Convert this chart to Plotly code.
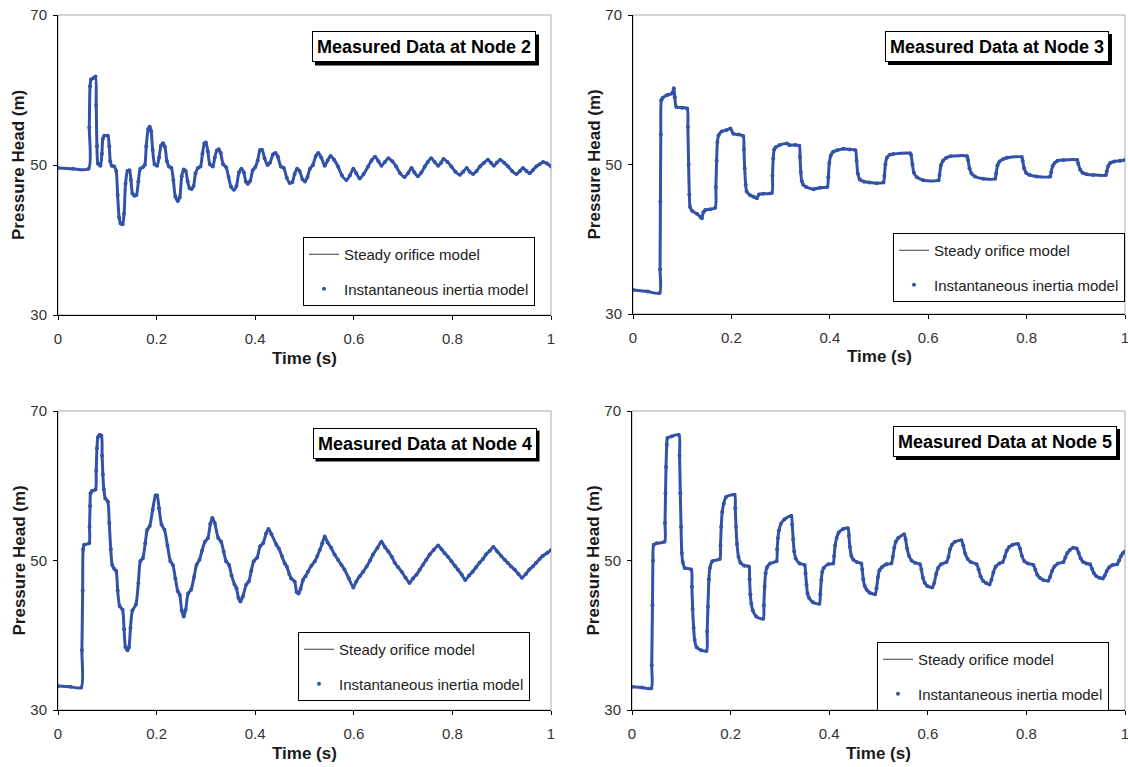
import plotly.graph_objects as go

# ---- Node 2: time (s) and pressure head (m) ----
t_node2 = [0, 0.03, 0.062, 0.0635, 0.065, 0.067, 0.072, 0.076, 0.0775, 0.079, 0.081, 0.086, 0.089, 0.091,
           0.094, 0.101, 0.104, 0.106, 0.109, 0.114, 0.118, 0.121, 0.124, 0.127, 0.131, 0.134, 0.137, 0.141,
           0.145, 0.148, 0.151, 0.155, 0.159, 0.163, 0.167, 0.172, 0.176, 0.179, 0.183, 0.186, 0.189, 0.192,
           0.196, 0.201, 0.205, 0.209, 0.213, 0.217, 0.221, 0.225, 0.23, 0.234, 0.238, 0.243, 0.247, 0.251,
           0.255, 0.259, 0.263, 0.267, 0.271, 0.275, 0.279, 0.284, 0.289, 0.293, 0.297, 0.300, 0.304, 0.308,
           0.314, 0.318, 0.322, 0.326, 0.330, 0.335, 0.341, 0.346, 0.351, 0.357, 0.362, 0.367, 0.372, 0.377,
           0.381, 0.385, 0.390, 0.395, 0.400, 0.405, 0.41, 0.414, 0.419, 0.425, 0.430, 0.436, 0.441, 0.446,
           0.452, 0.458, 0.464, 0.470, 0.475, 0.480, 0.485, 0.49, 0.496, 0.501, 0.506, 0.511, 0.517, 0.523,
           0.528, 0.534, 0.541, 0.547, 0.553, 0.56, 0.568, 0.576, 0.585, 0.592, 0.599, 0.605, 0.612, 0.62,
           0.629, 0.636, 0.643, 0.650, 0.656, 0.663, 0.670, 0.678, 0.686, 0.694, 0.703, 0.71, 0.717, 0.723,
           0.730, 0.737, 0.744, 0.75, 0.757, 0.764, 0.771, 0.777, 0.782, 0.79, 0.798, 0.806, 0.815, 0.822,
           0.829, 0.835, 0.842, 0.849, 0.856, 0.864, 0.872, 0.878, 0.884, 0.89, 0.897, 0.905, 0.913, 0.921,
           0.930, 0.937, 0.943, 0.95, 0.957, 0.963, 0.970, 0.977, 0.984, 0.992, 1.0]
h_node2 = [49.6, 49.5, 49.5, 55.0, 60.5, 61.4, 61.6, 61.8, 58.0, 52.5, 50.2, 49.9, 51.5, 53.5,
           53.9, 53.9, 52.5, 50.5, 49.9, 49.8, 49.2, 46.0, 43.0, 42.2, 42.1, 43.5, 47.5, 49.2,
           49.3, 48.0, 46.2, 45.9, 46.0, 47.8, 49.5, 49.7, 50.0, 52.5, 54.8, 55.1, 54.5, 52.0,
           50.1, 49.9, 51.0, 52.6, 52.9, 52.4, 50.5, 49.8, 49.6, 48.0, 45.8, 45.2, 45.7, 48.5,
           49.4, 49.2, 47.8, 46.9, 46.8, 47.2, 48.9, 49.6, 49.8, 51.5, 52.9, 53.0, 51.8, 50.1,
           49.8, 51.0, 51.9, 52.1, 51.6, 50.1, 49.7, 48.4, 47.1, 46.7, 47.2, 49.0, 49.5, 49.0,
           47.8, 47.5, 47.9, 49.3, 49.7, 50.6, 52.0, 52.0, 50.9, 50.0, 50.3, 51.4, 51.6, 51.1,
           49.8, 49.6, 48.3, 47.6, 47.7, 48.8, 49.5, 49.2, 48.1, 47.8, 48.4, 49.5, 50.0, 51.2,
           51.6, 51.0, 49.9, 50.6, 51.2, 50.7, 49.8, 48.6, 48.0, 48.6, 49.5, 48.9, 48.2, 48.8,
           49.8, 50.6, 51.1, 50.5, 49.9, 50.4, 50.9, 50.5, 49.8, 48.9, 48.4, 48.9, 49.6, 49.0,
           48.5, 49.0, 49.8, 50.4, 50.9, 50.4, 49.9, 50.3, 50.8, 50.4, 49.8, 49.1, 48.7, 49.1,
           49.6, 49.1, 48.8, 49.2, 49.8, 50.3, 50.7, 50.3, 49.9, 50.3, 50.7, 50.3, 49.8, 49.2,
           48.8, 49.2, 49.6, 49.2, 48.9, 49.3, 49.8, 50.1, 50.4, 50.2, 49.8]

# ---- Node 3 ----
t_node3 = [0, 0.03, 0.054, 0.0550, 0.0557, 0.0565, 0.0575, 0.06, 0.07, 0.079, 0.083, 0.085, 0.088, 0.10,
           0.110, 0.1115, 0.113, 0.1145, 0.116, 0.12, 0.13, 0.137, 0.140, 0.143, 0.147, 0.157, 0.167,
           0.1685, 0.170, 0.1715, 0.174, 0.180, 0.190, 0.198, 0.204, 0.215, 0.224, 0.2255, 0.227, 0.229,
           0.231, 0.238, 0.245, 0.252, 0.256, 0.265, 0.282, 0.2835, 0.285, 0.287, 0.29, 0.298, 0.313,
           0.318, 0.33, 0.338, 0.3395, 0.341, 0.343, 0.346, 0.352, 0.367, 0.38, 0.395, 0.397, 0.399,
           0.402, 0.407, 0.415, 0.428, 0.44, 0.452, 0.4545, 0.457, 0.461, 0.47, 0.48, 0.495, 0.509,
           0.511, 0.513, 0.516, 0.522, 0.529, 0.563, 0.565, 0.568, 0.571, 0.577, 0.59, 0.621, 0.623,
           0.626, 0.630, 0.637, 0.645, 0.679, 0.681, 0.684, 0.688, 0.695, 0.712, 0.736, 0.738, 0.741,
           0.745, 0.752, 0.76, 0.79, 0.792, 0.795, 0.799, 0.806, 0.82, 0.848, 0.850, 0.853, 0.857,
           0.863, 0.875, 0.903, 0.905, 0.909, 0.914, 0.922, 0.935, 0.961, 0.963, 0.966, 0.970, 0.978,
           0.99, 1.0]
h_node3 = [33.2, 33.0, 32.8, 36.0, 45.0, 54.0, 58.6, 58.9, 59.3, 59.5, 60.2, 59.0, 57.7, 57.6,
           57.5, 55.0, 50.0, 46.0, 44.3, 43.8, 43.4, 43.0, 42.8, 43.6, 43.9, 44.0, 44.2,
           47.0, 50.5, 53.0, 53.9, 54.4, 54.6, 54.8, 54.1, 54.0, 53.8, 52.0, 49.5, 47.3,
           46.4, 45.9, 45.7, 45.5, 46.0, 46.1, 46.2, 48.5, 50.8, 52.0, 52.3, 52.6, 52.8,
           52.6, 52.6, 52.5, 51.0, 49.0, 47.8, 47.3, 47.0, 46.7, 46.9, 47.0, 48.3, 50.2,
           51.2, 51.7, 51.9, 52.1, 52.0, 51.9, 50.5, 48.8, 48.0, 47.7, 47.6, 47.5, 47.6,
           48.5, 50.0, 50.9, 51.3, 51.4, 51.5, 51.3, 50.0, 48.9, 48.3, 47.9, 47.9, 48.6,
           49.9, 50.5, 50.9, 51.1, 51.1, 50.6, 49.5, 48.8, 48.4, 48.1, 48.1, 48.8, 49.9,
           50.4, 50.7, 50.9, 51.0, 50.5, 49.5, 48.9, 48.6, 48.4, 48.4, 49.0, 49.8, 50.2,
           50.5, 50.6, 50.6, 50.1, 49.3, 48.9, 48.7, 48.6, 48.6, 49.1, 49.8, 50.2, 50.4,
           50.5, 50.6]

# ---- Node 4 ----
t_node4 = [0, 0.025, 0.047, 0.0485, 0.050, 0.051, 0.053, 0.063, 0.064, 0.065, 0.066, 0.069, 0.076,
           0.0775, 0.079, 0.081, 0.084, 0.088, 0.0895, 0.091, 0.093, 0.096, 0.101, 0.104, 0.107, 0.110,
           0.114, 0.118, 0.121, 0.125, 0.131, 0.134, 0.137, 0.141, 0.144, 0.147, 0.151, 0.158, 0.163,
           0.167, 0.172, 0.177, 0.181, 0.186, 0.192, 0.198, 0.201, 0.205, 0.210, 0.216, 0.222, 0.228,
           0.233, 0.238, 0.243, 0.247, 0.251, 0.255, 0.259, 0.264, 0.270, 0.276, 0.281, 0.287, 0.292,
           0.298, 0.304, 0.309, 0.313, 0.318, 0.325, 0.331, 0.336, 0.341, 0.347, 0.352, 0.358, 0.362,
           0.366, 0.370, 0.375, 0.382, 0.387, 0.392, 0.397, 0.404, 0.410, 0.416, 0.422, 0.427, 0.433,
           0.443, 0.448, 0.454, 0.460, 0.464, 0.469, 0.473, 0.480, 0.484, 0.488, 0.492, 0.497, 0.502,
           0.507, 0.514, 0.521, 0.526, 0.531, 0.536, 0.541, 0.547, 0.554, 0.561, 0.568, 0.575, 0.581,
           0.59, 0.599, 0.605, 0.612, 0.619, 0.626, 0.633, 0.639, 0.648, 0.656, 0.663, 0.670, 0.677,
           0.683, 0.690, 0.697, 0.705, 0.713, 0.72, 0.727, 0.734, 0.740, 0.747, 0.754, 0.762, 0.771,
           0.778, 0.784, 0.791, 0.798, 0.805, 0.811, 0.819, 0.826, 0.834, 0.841, 0.848, 0.855, 0.862,
           0.868, 0.876, 0.883, 0.891, 0.899, 0.906, 0.912, 0.919, 0.926, 0.934, 0.941, 0.949, 0.956,
           0.963, 0.970, 0.977, 0.983, 0.992, 1.0]
h_node4 = [33.2, 33.1, 33.0, 38.0, 46.0, 51.5, 52.1, 52.3, 54.5, 57.3, 59.0, 59.3, 59.5,
           62.0, 65.0, 66.5, 66.8, 66.7, 64.0, 61.5, 59.5, 58.3, 57.9, 55.0, 51.5, 49.4,
           48.9, 48.6, 46.0, 43.9, 43.4, 40.8, 38.4, 38.0, 38.4, 41.0, 43.3, 44.1, 47.0,
           49.9, 50.3, 52.3, 54.1, 54.6, 56.8, 58.7, 58.7, 57.0, 54.8, 54.1, 52.0, 49.9,
           49.4, 47.6, 45.9, 45.4, 43.3, 42.5, 43.4, 45.6, 46.1, 47.8, 49.4, 50.1, 51.3,
           52.5, 53.0, 54.9, 55.7, 55.0, 53.0, 52.5, 51.2, 49.9, 49.4, 48.0, 46.8, 46.3,
           45.0, 44.5, 45.2, 46.8, 47.2, 48.6, 49.9, 50.4, 51.9, 52.3, 53.6, 54.2, 53.5,
           52.1, 51.6, 50.6, 49.6, 49.2, 48.2, 47.6, 47.2, 45.8, 45.6, 46.2, 47.4, 47.9,
           48.5, 49.3, 49.9, 50.6, 51.4, 52.3, 53.2, 52.4, 51.7, 50.8, 50.1, 49.4, 48.8,
           47.6, 46.4, 47.2, 47.9, 48.5, 49.2, 50.0, 50.8, 51.7, 52.5, 51.8, 51.2, 50.5,
           49.7, 49.1, 48.5, 47.7, 47.0, 47.6, 48.1, 48.8, 49.4, 50.1, 50.8, 51.4, 52.0,
           51.5, 51.0, 50.5, 49.9, 49.3, 48.8, 48.1, 47.4, 48.0, 48.5, 49.1, 49.7, 50.2,
           50.8, 51.3, 51.8, 51.2, 50.6, 50.1, 49.7, 49.2, 48.8, 48.2, 47.7, 48.2, 48.8,
           49.2, 49.7, 50.2, 50.6, 51.0, 51.4]

# ---- Node 5 ----
t_node5 = [0, 0.02, 0.039, 0.040, 0.0415, 0.0425, 0.044, 0.05, 0.066, 0.067, 0.068, 0.069, 0.0705,
           0.072, 0.08, 0.095, 0.0965, 0.098, 0.0995, 0.101, 0.103, 0.107, 0.120, 0.1215, 0.123, 0.125,
           0.127, 0.131, 0.14, 0.151, 0.1525, 0.154, 0.156, 0.158, 0.163, 0.178, 0.1795, 0.181, 0.183,
           0.186, 0.191, 0.208, 0.2095, 0.211, 0.213, 0.216, 0.22, 0.228, 0.237, 0.2385, 0.240, 0.242,
           0.245, 0.252, 0.266, 0.2675, 0.269, 0.271, 0.274, 0.28, 0.293, 0.2945, 0.296, 0.298, 0.302,
           0.309, 0.323, 0.325, 0.327, 0.329, 0.332, 0.34, 0.350, 0.352, 0.354, 0.356, 0.359, 0.367,
           0.380, 0.382, 0.384, 0.386, 0.389, 0.398, 0.408, 0.410, 0.412, 0.415, 0.419, 0.428, 0.438,
           0.440, 0.442, 0.445, 0.449, 0.456, 0.465, 0.467, 0.469, 0.472, 0.476, 0.482, 0.493, 0.496,
           0.499, 0.502, 0.507, 0.516, 0.526, 0.529, 0.532, 0.535, 0.540, 0.552, 0.555, 0.558, 0.562,
           0.567, 0.574, 0.584, 0.587, 0.590, 0.594, 0.599, 0.609, 0.613, 0.617, 0.621, 0.627, 0.638,
           0.642, 0.645, 0.649, 0.655, 0.668, 0.672, 0.676, 0.681, 0.687, 0.699, 0.703, 0.707, 0.712,
           0.718, 0.725, 0.729, 0.733, 0.738, 0.745, 0.752, 0.756, 0.760, 0.765, 0.772, 0.783, 0.787,
           0.791, 0.796, 0.803, 0.814, 0.818, 0.822, 0.827, 0.834, 0.844, 0.848, 0.852, 0.857, 0.864,
           0.875, 0.879, 0.883, 0.888, 0.895, 0.902, 0.906, 0.910, 0.915, 0.922, 0.929, 0.933, 0.937,
           0.942, 0.948, 0.955, 0.959, 0.963, 0.968, 0.975, 0.984, 0.988, 0.992, 0.996, 1.0]
h_node5 = [33.1, 33.0, 32.9, 36.0, 44.0, 50.0, 52.1, 52.3, 52.5, 55.0, 59.0, 62.5, 65.5,
           66.4, 66.6, 66.8, 64.0, 59.0, 54.5, 51.0, 49.8, 49.0, 48.8, 46.5, 43.5, 41.0,
           39.4, 38.4, 38.0, 37.9, 40.5, 43.8, 47.5, 49.0, 49.9, 50.2, 52.0, 54.5, 56.5,
           57.6, 58.5, 58.8, 57.0, 54.5, 52.2, 50.5, 49.7, 49.3, 49.2, 47.5, 45.5, 44.2,
           43.3, 42.5, 42.2, 44.0, 46.5, 48.3, 49.1, 49.6, 49.9, 51.5, 53.0, 54.0, 54.9,
           55.5, 56.0, 54.8, 52.8, 51.2, 50.3, 49.6, 49.4, 48.3, 46.8, 45.6, 45.0, 44.4,
           44.2, 45.5, 47.4, 48.5, 49.0, 49.5, 49.6, 50.6, 52.0, 53.0, 53.7, 54.2, 54.3,
           53.3, 51.8, 50.6, 50.1, 49.8, 49.6, 48.8, 47.5, 46.6, 46.1, 45.7, 45.5, 46.3,
           47.8, 48.7, 49.1, 49.5, 49.6, 50.5, 51.7, 52.5, 53.0, 53.5, 52.8, 51.6, 50.6,
           50.0, 49.7, 49.5, 48.8, 47.7, 47.0, 46.6, 46.4, 47.0, 48.2, 49.0, 49.5, 49.8,
           50.5, 51.5, 52.1, 52.5, 52.7, 52.0, 50.9, 50.2, 49.8, 49.5, 48.8, 47.9, 47.3,
           47.0, 46.8, 47.4, 48.4, 49.2, 49.6, 49.8, 50.5, 51.3, 51.8, 52.1, 52.2, 51.6,
           50.6, 49.9, 49.6, 49.4, 48.8, 48.1, 47.7, 47.4, 47.3, 47.8, 48.6, 49.2, 49.6,
           49.8, 50.4, 51.0, 51.4, 51.7, 51.6, 51.0, 50.3, 49.8, 49.6, 49.5, 48.9, 48.3,
           47.9, 47.7, 47.6, 48.0, 48.6, 49.1, 49.4, 49.5, 50.0, 50.6, 51.0, 51.2]

panel_titles = ["Measured Data at Node 2", "Measured Data at Node 3",
                "Measured Data at Node 4", "Measured Data at Node 5"]
series_names = ["Steady orifice model", "Instantaneous inertia model"]
x_ticks = [0, 0.2, 0.4, 0.6, 0.8, 1]
x_labels = ["0", "0.2", "0.4", "0.6", "0.8", "1"]
y_ticks = [30, 50, 70]

W, H = 1128, 767
BLUE = "rgb(50,82,168)"
LINE = "#3c3c3c"
FONT = "Liberation Sans, Arial, sans-serif"

# pixel boxes of the four plot areas: (left, right, top, bottom)
boxes = [(58, 551, 15, 315), (633, 1125, 15, 314), (58, 551, 411, 710), (632, 1125, 411, 710)]
# title box centres and legend top-left corners, in pixels
title_pos = [(424, 47), (997, 46.5), (424.5, 443), (1005, 441.5)]
legend_pos = [(303, 237), (893, 233), (298, 632), (877, 642)]
# title box size in pixels (inner text area) and padding
TB_W, TB_H, TB_PAD = 214, 21, 4
SHADOW = 3

data = [(t_node2, h_node2), (t_node3, h_node3), (t_node4, h_node4), (t_node5, h_node5)]

fig = go.Figure()
layout = dict(width=W, height=H, margin=dict(l=0, r=0, t=0, b=0, autoexpand=False),
              paper_bgcolor="white", plot_bgcolor="white",
              font=dict(family=FONT, color="#222222"))
annotations = []
shapes = []

for i, ((t, h), (l, r, top, bot)) in enumerate(zip(data, boxes)):
    k = i + 1
    sx = "" if k == 1 else str(k)
    xa, ya = "x" + sx, "y" + sx
    leg = "legend" + ("" if k == 1 else str(k))

    spline = dict(shape="spline", smoothing=0.7)
    fig.add_trace(go.Scatter(x=t, y=h, mode="lines", name=series_names[0],
                             line=dict(color=LINE, width=1, **spline),
                             xaxis=xa, yaxis=ya, legend=leg, legendgroup=f"s{k}",
                             hoverinfo="skip"))
    fig.add_trace(go.Scatter(x=t, y=h, mode="lines", showlegend=False,
                             line=dict(color=BLUE, width=3, **spline),
                             xaxis=xa, yaxis=ya, hoverinfo="skip"))
    fig.add_trace(go.Scatter(x=t, y=h, mode="markers", name=series_names[1],
                             marker=dict(color=BLUE, size=4),
                             xaxis=xa, yaxis=ya, legend=leg, legendgroup=f"i{k}",
                             hoverinfo="skip"))

    layout["xaxis" + sx] = dict(domain=[l / W, r / W], anchor=ya, range=[0, 1],
                                tickvals=x_ticks, ticktext=x_labels,
                                showline=True, linecolor="black", linewidth=1,
                                ticks="outside", ticklen=4, tickcolor="black",
                                showgrid=False, zeroline=False,
                                ticklabelstandoff=6, ticklabeloverflow="allow",
                                tickfont=dict(size=15, color="#333333"))
    layout["yaxis" + sx] = dict(domain=[1 - bot / H, 1 - top / H], anchor=xa, range=[30, 70],
                                tickvals=y_ticks,
                                showline=True, linecolor="black", linewidth=1,
                                ticks="outside", ticklen=4, tickcolor="black",
                                showgrid=False, zeroline=False,
                                ticklabelstandoff=3, ticklabeloverflow="allow",
                                tickfont=dict(size=15, color="#333333"))

    # light frame on the top and right edges
    shapes.append(dict(type="rect", xref=xa + " domain", yref=ya + " domain",
                       x0=0, x1=1, y0=0, y1=1, line=dict(color="#a8a8a8", width=1),
                       layer="below"))

    lx, ly = legend_pos[i]
    layout[leg] = dict(x=lx / W, y=1 - ly / H, xanchor="left", yanchor="top",
                       bgcolor="white", bordercolor="black", borderwidth=1,
                       font=dict(size=15, color="#222222"),
                       tracegroupgap=12, itemwidth=30)

    # boxed panel title with a drop shadow behind it
    cx, cy = title_pos[i]
    half_w = TB_W / 2 + TB_PAD + 1
    half_h = TB_H / 2 + TB_PAD + 1
    shapes.append(dict(type="rect", xref="paper", yref="paper",
                       x0=(cx - half_w + SHADOW) / W, x1=(cx + half_w + SHADOW) / W,
                       y0=1 - (cy + half_h + SHADOW) / H, y1=1 - (cy - half_h + SHADOW) / H,
                       fillcolor="black", line=dict(width=0), layer="above"))
    annotations.append(dict(
        text=f"<b>{panel_titles[i]}</b>", x=cx / W, y=1 - cy / H,
        xref="paper", yref="paper", showarrow=False,
        xanchor="center", yanchor="middle", width=TB_W, height=TB_H, align="center",
        font=dict(size=18, color="black", family=FONT),
        bgcolor="white", bordercolor="black", borderwidth=1, borderpad=TB_PAD))

    # axis titles
    annotations.append(dict(text="<b>Time (s)</b>", x=(l + r) / 2 / W, y=1 - (bot + 43) / H,
                            xref="paper", yref="paper", showarrow=False,
                            xanchor="center", yanchor="middle",
                            font=dict(size=17, color="#1a1a1a", family=FONT)))
    annotations.append(dict(text="<b>Pressure Head (m)</b>", x=(l - 39) / W,
                            y=1 - (top + bot) / 2 / H, textangle=-90,
                            xref="paper", yref="paper", showarrow=False,
                            xanchor="center", yanchor="middle",
                            font=dict(size=17, color="#1a1a1a", family=FONT)))

layout["annotations"] = annotations
layout["shapes"] = shapes
fig.update_layout(**layout)
fig.write_html("out.html")
